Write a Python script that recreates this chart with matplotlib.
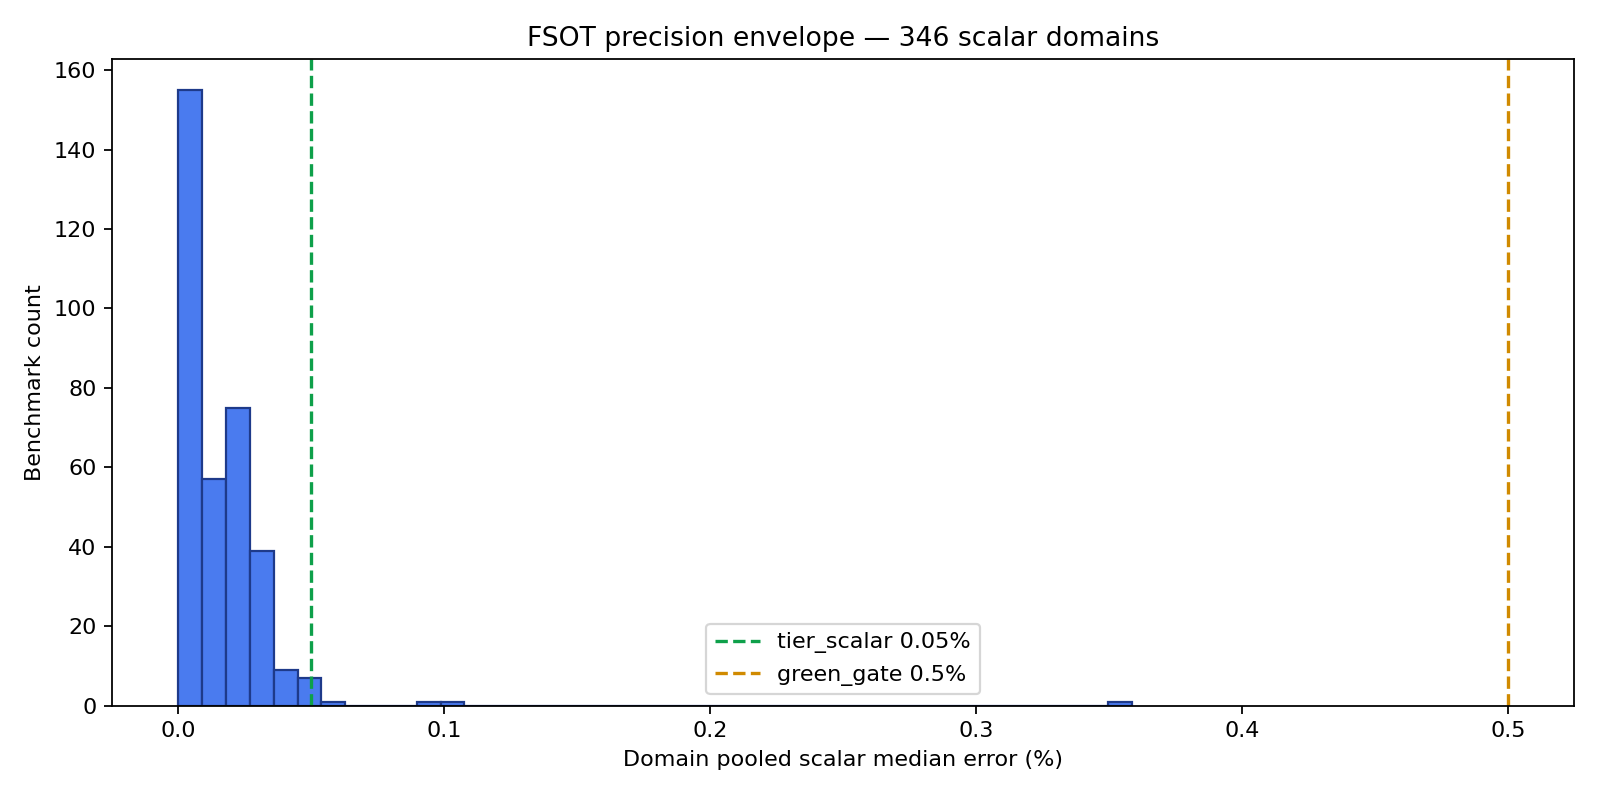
import numpy as np
import matplotlib.pyplot as plt

# histogram counts per bin (40 bins)
counts = [155, 57, 75, 39, 9, 7, 1, 0, 0, 0,
          1, 1, 0, 0, 0, 0, 0, 0, 0, 0,
          0, 0, 0, 0, 0, 0, 0, 0, 0, 0,
          0, 0, 0, 0, 0, 0, 0, 0, 0, 1]
err_min = 0.0002
err_max = 0.3585
tier_scalar = 0.05
green_gate = 0.5

edges = np.linspace(err_min, err_max, len(counts) + 1)

fig, ax = plt.subplots(figsize=(10, 5), dpi=160)
ax.hist(edges[:-1], bins=edges, weights=counts,
        color='#4a7bef', edgecolor='#1e3a8a', linewidth=1)
ax.axvline(tier_scalar, color='#0ea04a', linestyle='--', linewidth=1.5,
           label='tier_scalar 0.05%')
ax.axvline(green_gate, color='#d08a00', linestyle='--', linewidth=1.5,
           label='green_gate 0.5%')
ax.set_xlabel('Domain pooled scalar median error (%)')
ax.set_ylabel('Benchmark count')
ax.set_title('FSOT precision envelope — 346 scalar domains')
ax.legend(loc='lower center')
plt.subplots_adjust(left=0.07, right=0.984, top=0.926, bottom=0.118)
plt.savefig('out.png')
